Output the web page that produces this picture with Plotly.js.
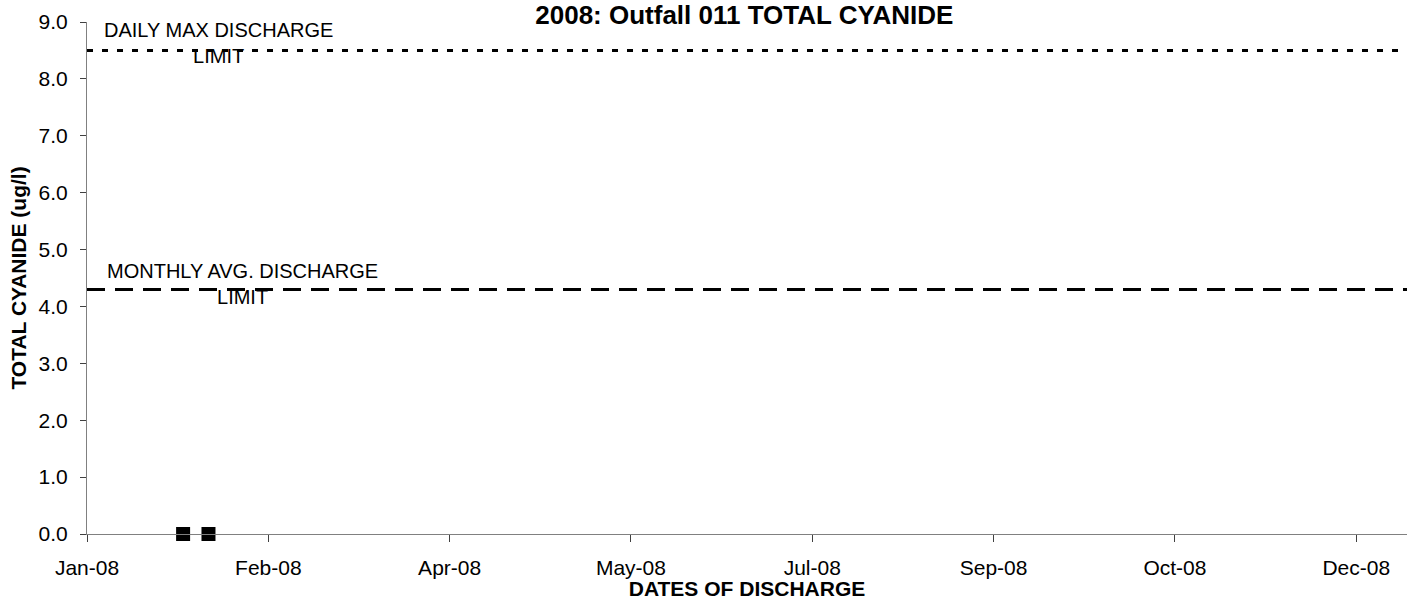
<!DOCTYPE html>
<html>
<head>
<meta charset="utf-8">
<script src="https://cdn.plot.ly/plotly-3.0.1.min.js"></script>
<style>
  html, body { margin: 0; padding: 0; background: #fff; }
  #chart { width: 1407px; height: 600px; }
</style>
</head>
<body>
<div id="chart"></div>
<script>
// ---- Data ----
const sampleDates = ['2008-01-27 12:00', '2008-02-03 12:00'];
const cyanideValues = [0.0, 0.0];
const axisStart = '2008-01-01';
const axisEnd = '2008-12-30';
const dailyMaxLimit = 8.5;
const monthlyAvgLimit = 4.3;
const dailyMaxLabel = 'DAILY MAX DISCHARGE<br>LIMIT';
const monthlyAvgLabel = 'MONTHLY AVG. DISCHARGE<br>LIMIT';
const chartTitle = '2008: Outfall 011 TOTAL CYANIDE';
const xTitle = 'DATES OF DISCHARGE';
const yTitle = 'TOTAL CYANIDE (ug/l)';

const FONT = 'Liberation Sans, Arial, sans-serif';

const traces = [
  {
    x: [axisStart, axisEnd],
    y: [dailyMaxLimit, dailyMaxLimit],
    mode: 'lines',
    line: { color: '#000', width: 3, dash: '6px,9px' },
    hoverinfo: 'skip',
    showlegend: false
  },
  {
    x: [axisStart, axisEnd],
    y: [monthlyAvgLimit, monthlyAvgLimit],
    mode: 'lines',
    line: { color: '#000', width: 3, dash: '18px,10px' },
    hoverinfo: 'skip',
    showlegend: false
  },
  {
    x: sampleDates,
    y: cyanideValues,
    mode: 'markers',
    marker: { symbol: 'square', size: 14, color: '#000' },
    cliponaxis: false,
    showlegend: false
  }
];

const layout = {
  width: 1407,
  height: 600,
  margin: { l: 87, r: 0, t: 22, b: 66 },
  paper_bgcolor: '#fff',
  plot_bgcolor: '#fff',
  showlegend: false,
  font: { family: FONT, color: '#000', size: 21 },
  title: {
    text: '<b>' + chartTitle + '</b>',
    font: { family: FONT, size: 26, color: '#000' },
    x: 0.529, xref: 'container', xanchor: 'center',
    y: 0.975, yref: 'container', yanchor: 'middle'
  },
  xaxis: {
    type: 'date',
    range: [axisStart, axisEnd],
    tickmode: 'linear',
    tick0: axisStart,
    dtick: 50 * 86400000,
    tickformat: '%b-%y',
    ticks: 'outside',
    ticklen: 7,
    tickcolor: '#404040',
    ticklabelstandoff: 8,
    showline: true,
    linecolor: '#808080',
    linewidth: 1,
    showgrid: false,
    zeroline: false,
    tickfont: { family: FONT, size: 21, color: '#000' },
    title: {
      text: '<b>' + xTitle + '</b>',
      font: { family: FONT, size: 21, color: '#000' },
      standoff: 4
    },
    automargin: false
  },
  yaxis: {
    range: [0, 9],
    tickmode: 'linear',
    tick0: 0,
    dtick: 1,
    tickformat: '.1f',
    ticks: 'outside',
    ticklen: 6,
    tickcolor: '#404040',
    ticklabelstandoff: 8,
    showline: true,
    linecolor: '#808080',
    linewidth: 1,
    showgrid: false,
    zeroline: false,
    tickfont: { family: FONT, size: 21, color: '#000' },
    title: {
      text: '<b>' + yTitle + '</b>',
      font: { family: FONT, size: 21, color: '#000' },
      standoff: 6
    },
    automargin: false
  },
  annotations: [
    {
      text: dailyMaxLabel,
      xref: 'paper', x: 0.0994,
      yref: 'y', y: dailyMaxLimit, yshift: 7,
      showarrow: false, align: 'center',
      xanchor: 'center', yanchor: 'middle',
      font: { family: FONT, size: 20, color: '#000' }
    },
    {
      text: monthlyAvgLabel,
      xref: 'paper', x: 0.1176,
      yref: 'y', y: monthlyAvgLimit, yshift: 5,
      showarrow: false, align: 'center',
      xanchor: 'center', yanchor: 'middle',
      font: { family: FONT, size: 20, color: '#000' }
    }
  ]
};

Plotly.newPlot('chart', traces, layout, { displayModeBar: false, staticPlot: true });
</script>
</body>
</html>
